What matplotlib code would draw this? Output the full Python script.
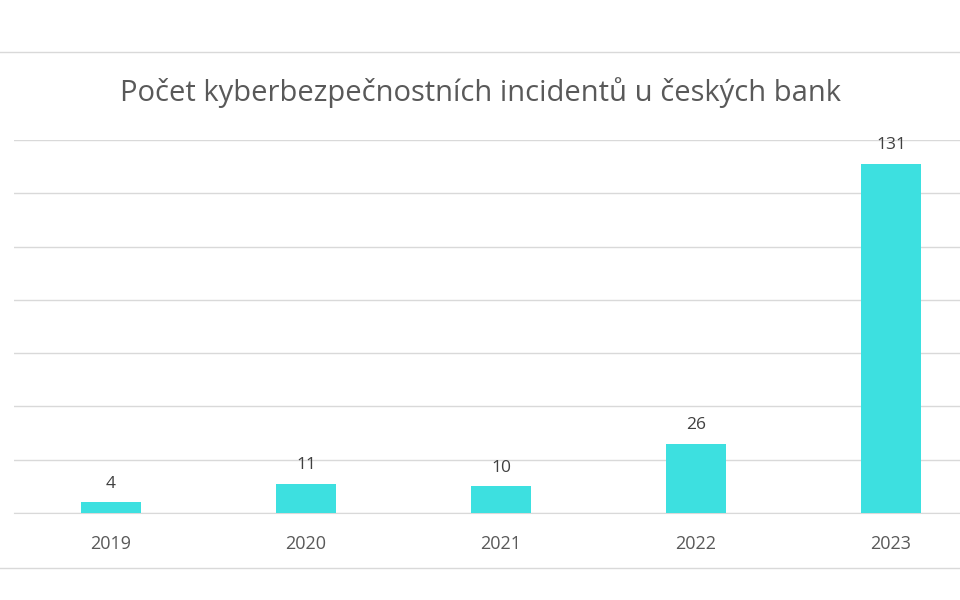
import matplotlib
matplotlib.use("Agg")
import matplotlib.pyplot as plt

years = ["2019", "2020", "2021", "2022", "2023"]
values = [4, 11, 10, 26, 131]
title = "Počet kyberbezpečnostních incidentů u českých bank"

plt.rcParams['font.family'] = ['Open Sans', 'DejaVu Sans']
fig = plt.figure(figsize=(9.6, 6), dpi=100)
fig.patch.set_facecolor("white")
ax = fig.add_axes([13.5/960, 1-513/600, 975/960, 373/600])
x = range(len(years))
ax.bar(x, values, width=0.31, color="#3de0e0", zorder=3)
for xi, v in zip(x, values):
    ax.text(xi, v + 4, str(v), ha="center", va="bottom", fontsize=12.5, color="#404040")
ax.set_xlim(-0.5, 4.5)
ax.set_ylim(0, 140)
ax.set_yticks(range(0, 141, 20))
ax.yaxis.grid(True, color="#d9d9d9", linewidth=1, zorder=0)
ax.set_yticklabels([])
ax.tick_params(axis="y", length=0)
ax.set_xticks(list(x))
ax.set_xticklabels(years, fontsize=13, color="#595959")
ax.tick_params(axis="x", length=0, pad=16)
for s in ["top", "right", "left"]:
    ax.spines[s].set_visible(False)
ax.spines["bottom"].set_color("#d9d9d9")
fig.text(480/960, 1-93/600, title, ha="center", va="center", fontsize=21, color="#595959")
for yy in (52, 568):
    fig.add_artist(plt.Line2D([0, 1], [1-yy/600]*2, color="#d9d9d9", linewidth=1))
fig.savefig("out.png", dpi=100)
